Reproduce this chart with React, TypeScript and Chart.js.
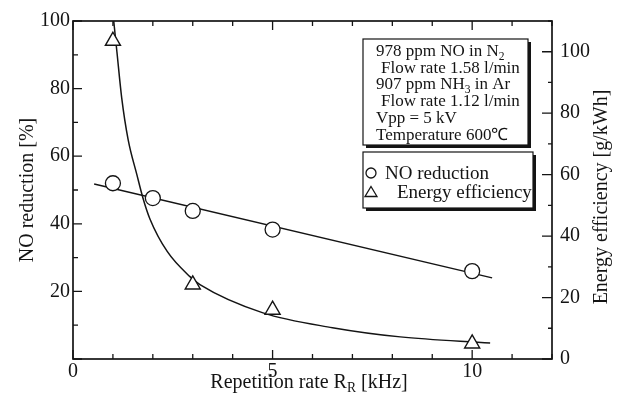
import { useEffect, useRef } from "react";
import { Chart, registerables } from "chart.js";

Chart.register(...registerables);

// Measured NO reduction (left axis, %)
const noRateKHz = [1, 2, 3, 5, 10];
const noReductionPct = [52.0, 47.6, 43.8, 38.3, 26.0];

// Straight trend line through the NO reduction points
const noTrendRateKHz = [0.53, 10.5];
const noTrendPct = [51.8, 24.0];

// Measured energy efficiency (right axis, g/kWh)
const effRateKHz = [1, 3, 5, 10];
const effGPerKWh = [103.5, 24.2, 16.0, 5.0];

// Smooth curve drawn through the energy efficiency points
const effCurveRateKHz = [1.02, 1.1, 1.22, 1.38, 1.6, 1.75, 1.93, 2.36, 2.93, 3.18, 4.76, 6.5, 8.2, 10.45];
const effCurveGPerKWh = [110, 100, 85, 71.5, 60, 52.5, 45.5, 35, 26.8, 24.2, 15, 10.2, 7.2, 5.2];

// Tick labels that are printed (other ticks are unlabelled marks)
const xTickLabels = [0, 5, 10];
const leftTickLabels = [20, 40, 60, 80, 100];
const rightTickLabels = [0, 20, 40, 60, 80, 100];

// Experimental conditions box ("_{..}" marks a subscript)
const conditionLines = [
  "978 ppm NO in N_{2}",
  " Flow rate 1.58 l/min",
  "907 ppm NH_{3} in Ar",
  " Flow rate 1.12 l/min",
  "Vpp = 5 kV",
  "Temperature 600\u2103",
];

const legendItems = [
  { marker: "circle", label: "NO reduction" },
  { marker: "triangle", label: "Energy efficiency" },
];

const INK = "#141414";
const FONT = "'Liberation Serif', 'Times New Roman', serif";

function richWidth(ctx: CanvasRenderingContext2D, text: string, size: number) {
  let w = 0;
  for (const p of text.split(/(_\{[^}]*\})/)) {
    if (!p) continue;
    if (p.startsWith("_{")) {
      ctx.font = `${size * 0.68}px ${FONT}`;
      w += ctx.measureText(p.slice(2, -1)).width;
    } else {
      ctx.font = `${size}px ${FONT}`;
      w += ctx.measureText(p).width;
    }
  }
  return w;
}

function drawRich(ctx: CanvasRenderingContext2D, text: string, x: number, y: number, size: number) {
  let cx = x;
  for (const p of text.split(/(_\{[^}]*\})/)) {
    if (!p) continue;
    if (p.startsWith("_{")) {
      const s = p.slice(2, -1);
      ctx.font = `${size * 0.68}px ${FONT}`;
      ctx.fillText(s, cx, y + size * 0.22);
      cx += ctx.measureText(s).width;
    } else {
      ctx.font = `${size}px ${FONT}`;
      ctx.fillText(p, cx, y);
      cx += ctx.measureText(p).width;
    }
  }
}

function shadowBox(ctx: CanvasRenderingContext2D, x: number, y: number, w: number, h: number) {
  ctx.fillStyle = INK;
  ctx.fillRect(x + 3, y + 3, w, h);
  ctx.fillStyle = "#fff";
  ctx.fillRect(x, y, w, h);
  ctx.strokeStyle = INK;
  ctx.lineWidth = 1.2;
  ctx.strokeRect(x, y, w, h);
}

const decorPlugin = {
  id: "decor",
  afterDraw(chart: any) {
    const { ctx, chartArea: a, scales } = chart;
    ctx.save();

    // frame
    ctx.strokeStyle = INK;
    ctx.lineWidth = 1.7;
    ctx.strokeRect(a.left, a.top, a.right - a.left, a.bottom - a.top);

    // inward tick marks on all four sides
    ctx.lineWidth = 1.3;
    ctx.beginPath();
    for (const t of scales.x.ticks) {
      const px = scales.x.getPixelForValue(t.value);
      const len = t.value % 5 === 0 ? 9 : 5;
      ctx.moveTo(px, a.bottom);
      ctx.lineTo(px, a.bottom - len);
      ctx.moveTo(px, a.top);
      ctx.lineTo(px, a.top + len);
    }
    for (const t of scales.y.ticks) {
      const py = scales.y.getPixelForValue(t.value);
      const len = t.value % 20 === 0 ? 9 : 5;
      ctx.moveTo(a.left, py);
      ctx.lineTo(a.left + len, py);
    }
    for (const t of scales.y2.ticks) {
      const py = scales.y2.getPixelForValue(t.value);
      const len = t.value % 20 === 0 ? 10 : 4;
      ctx.moveTo(a.right, py);
      ctx.lineTo(a.right - len, py);
    }
    ctx.stroke();

    // axis titles
    ctx.fillStyle = INK;
    ctx.textBaseline = "middle";
    ctx.textAlign = "center";
    ctx.font = `20px ${FONT}`;
    ctx.save();
    ctx.translate(28, (a.top + a.bottom) / 2);
    ctx.rotate(-Math.PI / 2);
    ctx.fillText("NO reduction [%]", 0, 0);
    ctx.restore();
    ctx.save();
    ctx.translate(602, (a.top + a.bottom) / 2 + 7);
    ctx.rotate(-Math.PI / 2);
    ctx.fillText("Energy efficiency [g/kWh]", 0, 0);
    ctx.restore();

    ctx.textAlign = "left";
    ctx.textBaseline = "alphabetic";
    const xTitle = "Repetition rate R_{R} [kHz]";
    const xw = richWidth(ctx, xTitle, 20);
    drawRich(ctx, xTitle, 309 - xw / 2, 388, 20);

    // conditions box
    shadowBox(ctx, 363, 39, 165, 106);
    ctx.fillStyle = INK;
    conditionLines.forEach((line, i) => {
      const indent = line.startsWith(" ");
      drawRich(ctx, line.trimStart(), indent ? 381 : 376, 56 + i * 16.7, 17);
    });

    // legend box
    shadowBox(ctx, 363, 152, 170, 56);
    legendItems.forEach((item, i) => {
      const cy = 173 + i * 19;
      ctx.strokeStyle = INK;
      ctx.lineWidth = 1.3;
      ctx.beginPath();
      if (item.marker === "circle") {
        ctx.arc(371, cy, 5, 0, Math.PI * 2);
      } else {
        ctx.moveTo(371, cy - 5.5);
        ctx.lineTo(377, cy + 4.5);
        ctx.lineTo(365, cy + 4.5);
        ctx.closePath();
      }
      ctx.stroke();
      ctx.fillStyle = INK;
      ctx.font = `19px ${FONT}`;
      ctx.textBaseline = "middle";
      ctx.fillText(item.label, i === 0 ? 385 : 397, cy + 1);
    });

    ctx.restore();
  },
};

export default function App() {
  const canvasRef = useRef<HTMLCanvasElement | null>(null);

  useEffect(() => {
    const canvas = canvasRef.current;
    if (!canvas) return;

    const pts = (xs: number[], ys: number[]) => xs.map((x, i) => ({ x, y: ys[i] }));
    const tickFont = { family: FONT, size: 20 };

    const chart = new Chart(canvas, {
      type: "line",
      data: {
        datasets: [
          {
            label: "NO reduction",
            data: pts(noRateKHz, noReductionPct),
            yAxisID: "y",
            showLine: false,
            pointStyle: "circle",
            pointRadius: 7.5,
            pointBackgroundColor: "#fff",
            pointBorderColor: INK,
            pointBorderWidth: 1.3,
          },
          {
            label: "Energy efficiency",
            data: pts(effRateKHz, effGPerKWh),
            yAxisID: "y2",
            showLine: false,
            pointStyle: "triangle",
            pointRadius: 8.7,
            pointBackgroundColor: "#fff",
            pointBorderColor: INK,
            pointBorderWidth: 1.4,
          },
          {
            label: "NO reduction trend",
            data: pts(noTrendRateKHz, noTrendPct),
            yAxisID: "y",
            borderColor: INK,
            borderWidth: 1.5,
            pointRadius: 0,
            fill: false,
          },
          {
            label: "Energy efficiency curve",
            data: pts(effCurveRateKHz, effCurveGPerKWh),
            yAxisID: "y2",
            borderColor: INK,
            borderWidth: 1.5,
            pointRadius: 0,
            cubicInterpolationMode: "monotone",
            fill: false,
          },
        ],
      },
      options: {
        animation: false,
        responsive: true,
        maintainAspectRatio: false,
        layout: { padding: { top: 21, left: 0, right: 0, bottom: 0 } },
        plugins: { legend: { display: false }, tooltip: { enabled: false } },
        scales: {
          x: {
            type: "linear",
            min: 0,
            max: 12,
            grid: { display: false, drawTicks: false },
            border: { display: false },
            ticks: {
              stepSize: 1,
              autoSkip: false,
              maxRotation: 0,
              color: INK,
              font: tickFont,
              padding: 1,
              callback: (v: any) => (xTickLabels.includes(Number(v)) ? String(v) : ""),
            },
            afterFit: (s: any) => {
              s.height = 51;
            },
          },
          y: {
            type: "linear",
            position: "left",
            min: 0,
            max: 100,
            grid: { display: false, drawTicks: false },
            border: { display: false },
            ticks: {
              stepSize: 10,
              autoSkip: false,
              color: INK,
              font: tickFont,
              padding: 3,
              callback: (v: any) => (leftTickLabels.includes(Number(v)) ? String(v) : ""),
            },
            afterFit: (s: any) => {
              s.width = 73;
            },
          },
          y2: {
            type: "linear",
            position: "right",
            min: 0,
            max: 110,
            grid: { display: false, drawTicks: false },
            border: { display: false },
            ticks: {
              stepSize: 10,
              autoSkip: false,
              color: INK,
              font: tickFont,
              padding: 8,
              callback: (v: any) => (rightTickLabels.includes(Number(v)) ? String(v) : ""),
            },
            afterFit: (s: any) => {
              s.width = 76;
            },
          },
        },
      },
      plugins: [decorPlugin],
    } as any);

    return () => chart.destroy();
  }, []);

  return (
    <div style={{ position: "fixed", left: 0, top: 0, width: 628, height: 410, background: "#fff" }}>
      <canvas ref={canvasRef} />
    </div>
  );
}
